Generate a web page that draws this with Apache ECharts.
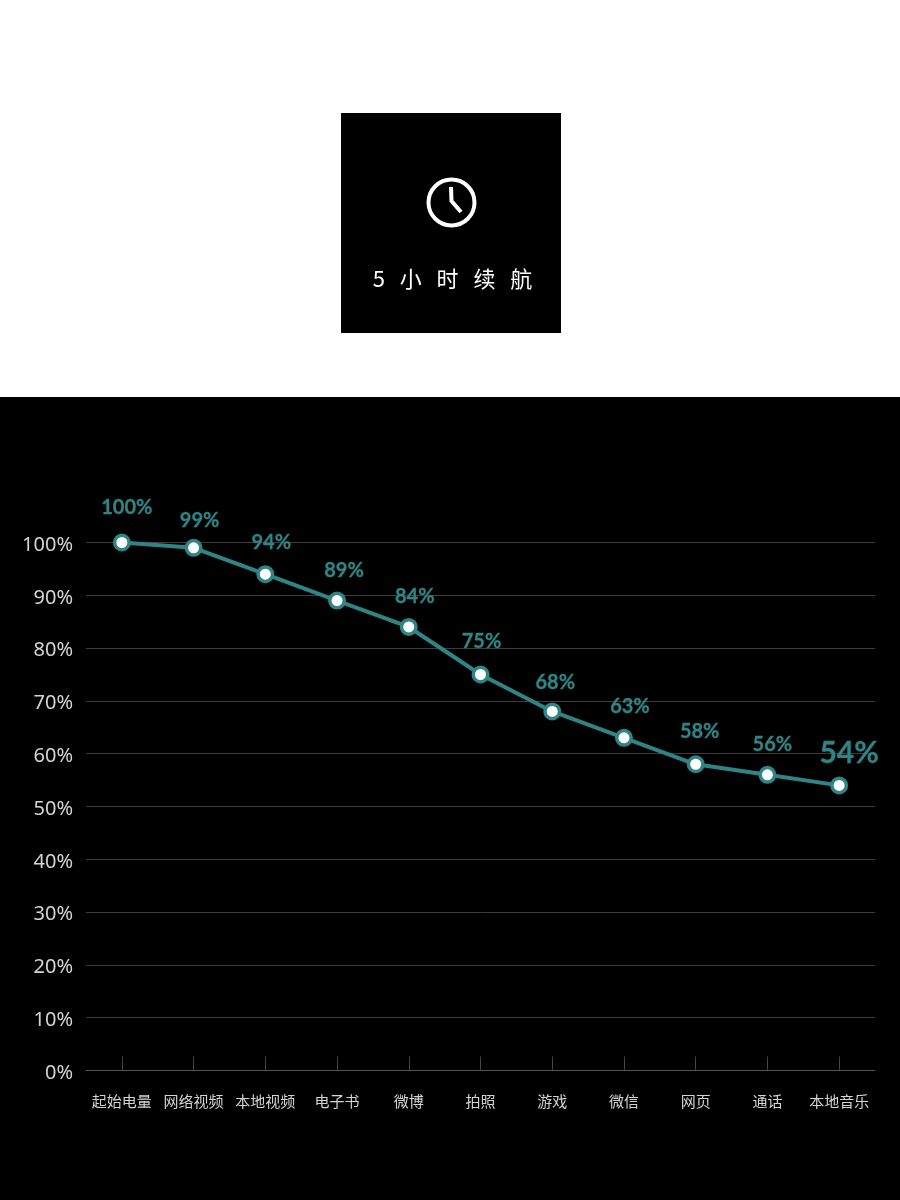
<!DOCTYPE html>
<html>
<head>
<meta charset="utf-8">
<style>html,body{margin:0;padding:0;background:#fff}#c{width:900px;height:1200px}</style>
<script src="https://cdn.jsdelivr.net/npm/echarts@6/dist/echarts.min.js"></script>
</head>
<body>
<div id="c"></div>
<script>
const categories = ['起始电量','网络视频','本地视频','电子书','微博','拍照','游戏','微信','网页','通话','本地音乐'];
const batteryValues = [100,99,94,89,84,75,68,63,58,56,54];
const yTickStep = 10;
const cardTitle = '5   小   时   续   航';
const labelOffsets = [[5,-4],[6,4],[6,-1],[7,1],[6,1],[1,-2],[3,2],[6,0],[4,-2],[5,1],[10,4]];
const teal = '#2f8585';
const cjk = '"Noto Sans CJK SC","Noto Sans",sans-serif';
const chart = echarts.init(document.getElementById('c'), null, {renderer:'canvas', width:900, height:1200});
chart.setOption({
  backgroundColor:'#fff',
  animation:false,
  graphic:[
    {type:'rect',z:-10,shape:{x:0,y:397,width:900,height:803},style:{fill:'#000'}},
    {type:'rect',z:-10,shape:{x:341,y:113,width:220,height:220},style:{fill:'#000'}},
    {type:'circle',z:5,shape:{cx:451.5,cy:202.5,r:23},style:{fill:'none',stroke:'#fff',lineWidth:4}},
    {type:'polyline',z:5,shape:{points:[[451,187],[451.5,201],[461,212]]},style:{fill:'none',stroke:'#fff',lineWidth:4,lineJoin:'miter'}},
    {type:'text',z:5,x:452.5,y:279,style:{text:cardTitle,fill:'#fff',font:'22px '+cjk,align:'center',verticalAlign:'middle'}}
  ],
  grid:{left:86,right:25,top:542.5,height:528,containLabel:false},
  xAxis:{
    type:'category',data:categories,boundaryGap:true,
    axisLine:{show:true,lineStyle:{color:'#555',width:1}},
    axisTick:{show:true,inside:true,length:14,alignWithLabel:true,lineStyle:{color:'#444',width:1}},
    axisLabel:{color:'#d4d4d4',fontSize:15,fontFamily:cjk,margin:23,interval:0}
  },
  yAxis:{
    type:'value',min:0,max:100,interval:yTickStep,
    axisLine:{show:false},axisTick:{show:false},
    splitLine:{show:true,lineStyle:{color:'#3c3c3c',width:1}},
    axisLabel:{margin:13,formatter:'{t|{value}%}',rich:{t:{color:'#d4d4d4',fontSize:20,fontFamily:'"Noto Sans",sans-serif',padding:[5,0,0,0]}}}
  },
  series:[{
    type:'line',smooth:false,
    data:batteryValues.map((v,i)=>{
      const last = i===batteryValues.length-1;
      return {value:v,label:{
        offset:labelOffsets[i],
        fontSize:last?30:20
      }};
    }),
    symbol:'circle',symbolSize:14.5,showAllSymbols:true,
    lineStyle:{color:teal,width:4},
    itemStyle:{color:'#fff',borderColor:teal,borderWidth:3.5},
    label:{show:true,position:'top',distance:12,color:teal,fontFamily:'Lato,sans-serif',fontWeight:'bold',textBorderColor:teal,textBorderWidth:0.3,formatter:'{c}%'},
    z:4
  }]
});
</script>
</body>
</html>
